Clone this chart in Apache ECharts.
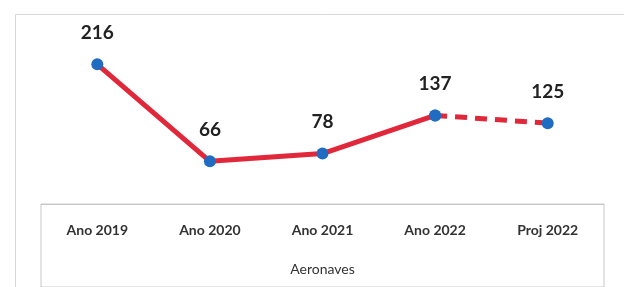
<!DOCTYPE html>
<html>
<head>
<meta charset="utf-8">
<script src="https://cdn.jsdelivr.net/npm/echarts@6/dist/echarts.min.js"></script>
<style>
html,body{margin:0;padding:0;background:#fff;}
#c{width:624px;height:287px;}
</style>
</head>
<body>
<div id="c"></div>
<script>
var categories = ['Ano 2019', 'Ano 2020', 'Ano 2021', 'Ano 2022', 'Proj 2022'];
var actualValues = [216, 66, 78, 137, null];
var projectedValues = [null, null, null, 137, 125];
var labelValues = [216, 66, 78, 137, 125];
var axisName = 'Aeronaves';

var chart = echarts.init(document.getElementById('c'), null, {renderer: 'canvas'});
var labelStyle = {
  show: true, position: 'top', distance: 16,
  fontFamily: 'Lato', fontWeight: 'bold', fontSize: 19, color: '#222'
};
chart.setOption({
  animation: false,
  backgroundColor: '#fff',
  graphic: [{
    type: 'rect', left: 13, top: 12, silent: true,
    shape: {width: 700, height: 400},
    style: {fill: 'none', stroke: '#d8d8d8', lineWidth: 1}
  }],
  grid: [
    {left: 41, right: 20, top: 10, bottom: 83},
    {left: 41, right: 20, top: 204, bottom: -10, show: true, borderColor: '#c8c8c8', borderWidth: 1, backgroundColor: 'transparent'}
  ],
  xAxis: [{
    type: 'category', data: categories, gridIndex: 0, boundaryGap: true,
    axisLine: {show: true, lineStyle: {color: '#c8c8c8', width: 1}},
    axisTick: {show: false},
    axisLabel: {margin: 19, fontFamily: 'Lato', fontSize: 14, color: '#333', fontWeight: 'bold'},
    name: axisName, nameLocation: 'middle', nameGap: 58,
    nameTextStyle: {fontFamily: 'Lato', fontSize: 14, color: '#333'}
  }, {
    type: 'category', data: categories, gridIndex: 1, show: false
  }],
  yAxis: [{
    type: 'value', min: 0, max: 300, gridIndex: 0, show: false, splitLine: {show: false}
  }, {
    type: 'value', gridIndex: 1, show: false, splitLine: {show: false}
  }],
  series: [{
    type: 'line', data: actualValues, xAxisIndex: 0, yAxisIndex: 0,
    lineStyle: {color: '#e0283a', width: 5},
    symbol: 'circle', symbolSize: 12,
    itemStyle: {color: '#1f6cc2'},
    z: 3,
    label: Object.assign({}, labelStyle, {
      formatter: function (p) { return p.dataIndex < 4 ? p.value : ''; }
    })
  }, {
    type: 'line', data: projectedValues, xAxisIndex: 0, yAxisIndex: 0,
    lineStyle: {color: '#e0283a', width: 5, type: [12, 8]},
    symbol: 'circle', symbolSize: 12,
    itemStyle: {color: '#1f6cc2'},
    z: 2,
    label: Object.assign({}, labelStyle, {
      formatter: function (p) { return p.dataIndex === 4 ? labelValues[4] : ''; }
    })
  }]
});
</script>
</body>
</html>
